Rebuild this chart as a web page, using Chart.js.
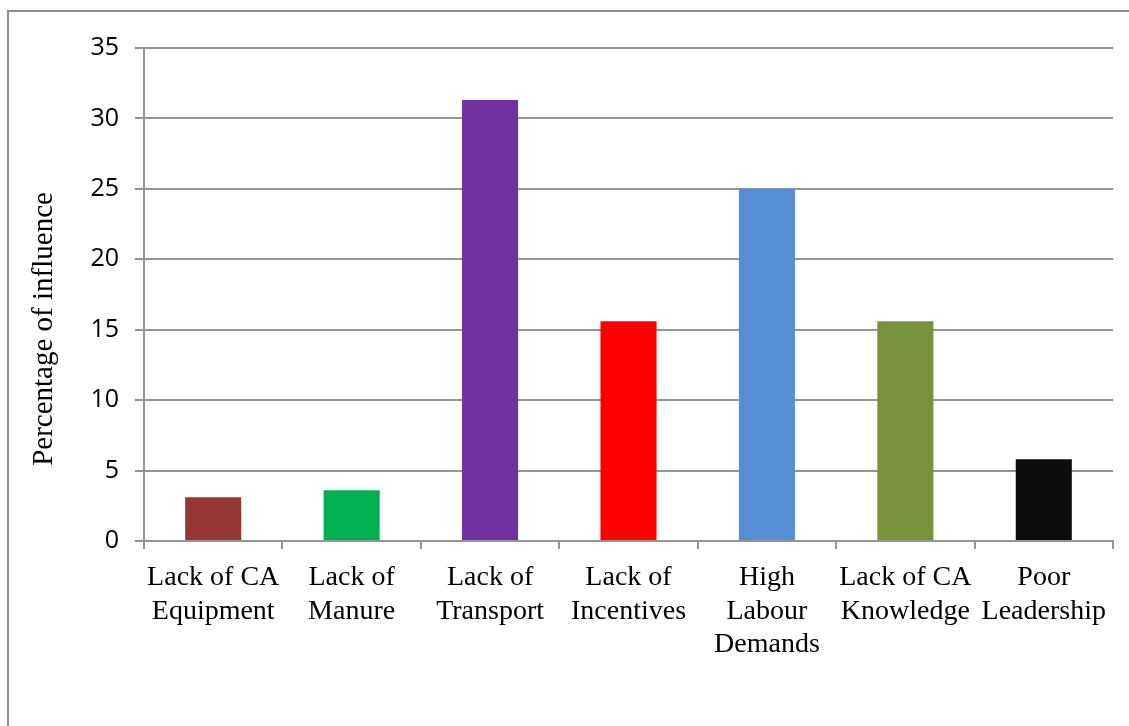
<!DOCTYPE html>
<html lang="en">
<head>
  <meta charset="UTF-8" />
  <title>Percentage of influence</title>
  <script src="https://cdn.jsdelivr.net/npm/chart.js"></script>
  <style>
    html, body { margin: 0; padding: 0; background: #fff; overflow: hidden; }
    .frame {
      position: absolute;
      left: 7px;
      top: 10px;
      width: 1200px;
      height: 800px;
      border: 2px solid #8f8f8f;
    }
    #chart { position: absolute; left: 0; top: 0; }
  </style>
</head>
<body>
  <div class="frame"></div>
  <canvas id="chart" width="1129" height="726"></canvas>

  <script>
    // data
    const categories = [
      ['Lack of CA', 'Equipment'],
      ['Lack of', 'Manure'],
      ['Lack of', 'Transport'],
      ['Lack of', 'Incentives'],
      ['High', 'Labour', 'Demands'],
      ['Lack of CA', 'Knowledge'],
      ['Poor', 'Leadership']
    ];
    const values = [3.1, 3.6, 31.3, 15.6, 25.0, 15.6, 5.8];
    const barColors = ['#953735', '#00B050', '#7030A0', '#FF0000', '#558ED5', '#77933C', '#0D0D0D'];
    const yTitle = 'Percentage of influence';

    const gridColor = '#959595';

    // y-axis title, drawn a bit below the plot centre as in the original
    const sideTitle = {
      id: 'sideTitle',
      afterDraw(chart) {
        const ctx = chart.ctx;
        ctx.save();
        ctx.translate(44, 329);
        ctx.rotate(-Math.PI / 2);
        ctx.font = '29px "Liberation Serif", serif';
        ctx.fillStyle = '#000';
        ctx.textAlign = 'center';
        ctx.textBaseline = 'middle';
        ctx.fillText(yTitle, 0, 0);
        ctx.restore();
      }
    };

    new Chart(document.getElementById('chart').getContext('2d'), {
      type: 'bar',
      data: {
        labels: categories,
        datasets: [{
          data: values,
          backgroundColor: barColors,
          borderWidth: 0,
          categoryPercentage: 1,
          barPercentage: 0.405
        }]
      },
      options: {
        responsive: false,
        animation: false,
        layout: { padding: { left: 0, top: 48, right: 16, bottom: 0 } },
        plugins: {
          legend: { display: false },
          tooltip: { enabled: false }
        },
        scales: {
          x: {
            afterFit: s => { s.height = 185; },
            grid: {
              offset: true,
              drawOnChartArea: false,
              drawTicks: true,
              tickLength: 8,
              color: gridColor,
              lineWidth: 2
            },
            border: { display: true, color: gridColor, width: 2 },
            ticks: {
              color: '#000',
              padding: 12,
              maxRotation: 0,
              autoSkip: false,
              font: { family: '"Liberation Serif", serif', size: 28, lineHeight: '33.5px' }
            }
          },
          y: {
            min: 0,
            max: 35,
            afterFit: s => { s.width = 144; },
            grid: {
              color: gridColor,
              lineWidth: 2,
              drawTicks: true,
              tickLength: 9,
              tickColor: gridColor
            },
            border: { display: true, color: gridColor, width: 2 },
            ticks: {
              stepSize: 5,
              color: '#000',
              padding: 16,
              font: { family: '"Open Sans", sans-serif', size: 25 }
            }
          }
        }
      },
      plugins: [sideTitle]
    });
  </script>
</body>
</html>
